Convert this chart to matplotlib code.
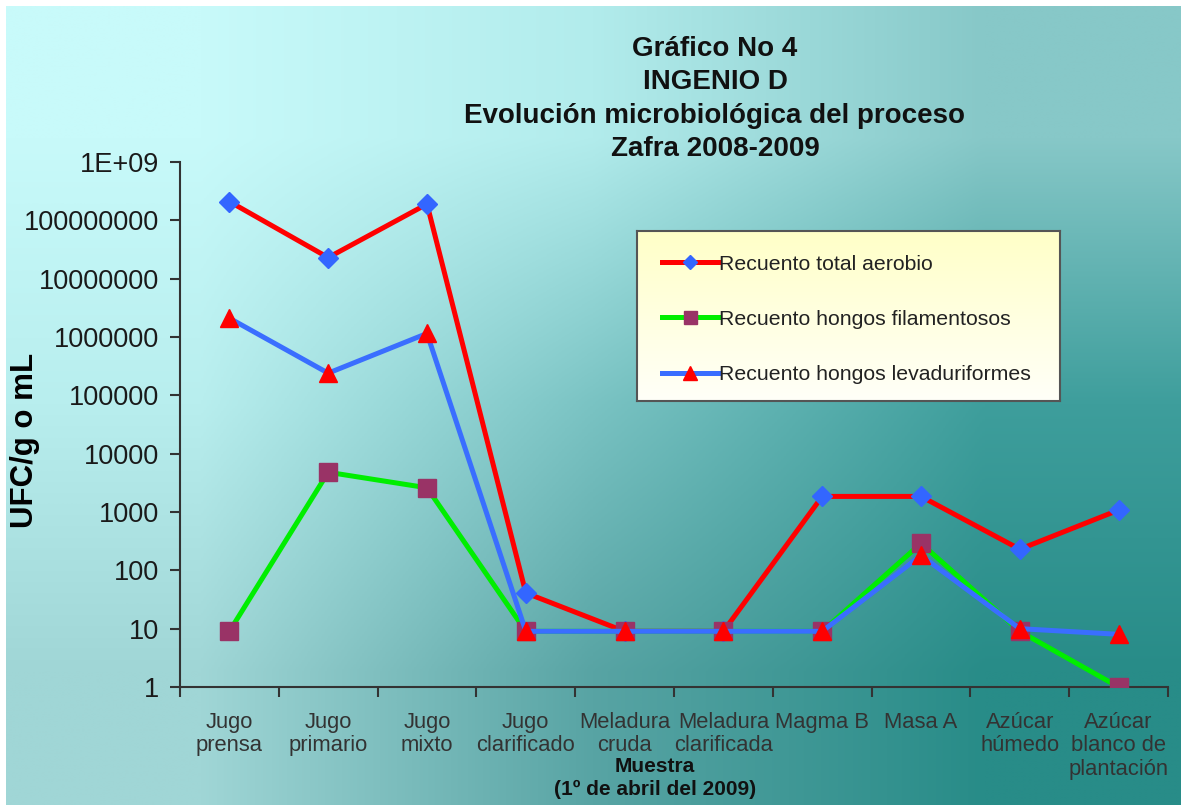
import numpy as np
import matplotlib
matplotlib.use("Agg")
import matplotlib.pyplot as plt

plt.rcParams['font.family'] = ['Liberation Sans', 'DejaVu Sans']

# data
muestras = ["Jugo\nprensa", "Jugo\nprimario", "Jugo\nmixto", "Jugo\nclarificado",
            "Meladura\ncruda", "Meladura\nclarificada", "Magma B", "Masa A",
            "Azúcar\nhúmedo", "Azúcar\nblanco de\nplantación"]
total_aerobio = [2.1e8, 2.3e7, 1.9e8, 41, 9, 9, 1850, 1850, 230, 1080]
hongos_filamentosos = [9, 4800, 2600, 9, 9, 9, 9, 290, 9, 1]
hongos_levaduriformes = [2.1e6, 2.4e5, 1.15e6, 9, 9, 9, 9, 180, 10, 8]
ytick_vals = [1, 10, 100, 1000, 10000, 100000, 1000000, 10000000, 100000000, 1e9]
ytick_labels = ["1", "10", "100", "1000", "10000", "100000", "1000000",
                "10000000", "100000000", "1E+09"]

W, H = 1181, 805
fig = plt.figure(figsize=(W/100, H/100), dpi=100)
fig.patch.set_facecolor("white")

# background gradient (3x3 grid of colours, bilinear)
grid = np.array([
    [[200, 250, 250], [178, 236, 236], [135, 200, 200]],
    [[184, 238, 238], [122, 195, 195], [62, 158, 156]],
    [[160, 214, 214], [88, 164, 164], [40, 140, 136]],
]) / 255.0
bg = fig.add_axes([6/W, 0, 1 - 6/W, 1 - 6/H], zorder=0)
bg.imshow(grid, aspect="auto", interpolation="bilinear", extent=[0, 1, 1, 0])
bg.set_xlim(0, 1)
bg.set_ylim(1, 0)
bg.axis("off")

ax = fig.add_axes([180/W, 1 - 687/H, 988/W, 525/H], zorder=1)
ax.patch.set_alpha(0)
x = np.arange(len(muestras)) + 0.5

ax.plot(x, total_aerobio, color="#FF0000", lw=3.6, marker="D", ms=10.5,
        mfc="#3366FF", mec="#3366FF", zorder=3, label="Recuento total aerobio")
ax.plot(x, hongos_filamentosos, color="#00EE00", lw=3.6, marker="s", ms=13,
        mfc="#993366", mec="#993366", zorder=4, label="Recuento hongos filamentosos")
ax.plot(x, hongos_levaduriformes, color="#3A6EFF", lw=3.6, marker="^", ms=13.5,
        mfc="#FF0000", mec="#FF0000", zorder=5, label="Recuento hongos levaduriformes")

ax.set_yscale("log")
ax.set_ylim(1, 1e9)
ax.set_xlim(0, len(muestras))
ax.set_yticks(ytick_vals)
ax.set_yticklabels(ytick_labels)
ax.yaxis.set_minor_locator(matplotlib.ticker.NullLocator())
ax.set_xticks(np.arange(len(muestras) + 1))
ax.set_xticklabels([])
ax.set_xticks(x, minor=True)
ax.set_xticklabels(muestras, minor=True, fontsize=15.8, color="#333333", linespacing=1.15)
ax.tick_params(axis="x", which="minor", length=0, pad=18)
ax.tick_params(axis="x", which="major", length=7, width=1.5, color="#333333")
ax.tick_params(axis="y", length=7, width=1.5, color="#333333", labelsize=19.5,
               labelcolor="#1a1a1a", pad=8)
for s in ["top", "right"]:
    ax.spines[s].set_visible(False)
for s in ["left", "bottom"]:
    ax.spines[s].set_color("#333333")
    ax.spines[s].set_linewidth(1.5)

ax.set_ylabel("UFC/g o mL", fontsize=22.5, fontweight="bold", labelpad=0)
ax.yaxis.set_label_coords(-(180 - 40)/988, (687 - 440)/525)

fig.text(715/W, 1 - 99/H, "Gráfico No 4\nINGENIO D\nEvolución microbiológica del proceso\nZafra 2008-2009",
         ha="center", va="center", fontsize=20, fontweight="bold", color="#111111",
         linespacing=1.38)
fig.text(655/W, 1 - 778/H, "Muestra\n(1º de abril del 2009)", ha="center", va="center",
         fontsize=15, fontweight="bold", color="#111111", linespacing=1.25)

# legend box with light yellow gradient
lx0, ly0, lx1, ly1 = 637, 231, 1060, 401
lg = fig.add_axes([lx0/W, 1 - ly1/H, (lx1 - lx0)/W, (ly1 - ly0)/H], zorder=2)
yel = np.linspace(0, 1, 64)[:, None, None] * (np.array([255, 255, 248]) - np.array([255, 255, 200])) + np.array([255, 255, 200])
lg.imshow(yel / 255.0, aspect="auto", extent=[0, 1, 0, 1], origin="upper")
lg.set_xticks([])
lg.set_yticks([])
for s in lg.spines.values():
    s.set_color("#555555")
    s.set_linewidth(1.5)

handles, labels = ax.get_legend_handles_labels()
leg = lg.legend(handles, labels, loc="center left", bbox_to_anchor=(0.035, 0.48),
                frameon=False, fontsize=15.3, labelspacing=1.7, handlelength=2.6,
                handletextpad=0.08, borderpad=0)
for t in leg.get_texts():
    t.set_color("#222222")
for h in leg.legend_handles:
    h.set_markersize(h.get_markersize() * 0.72)

fig.savefig("out.png", dpi=100)
